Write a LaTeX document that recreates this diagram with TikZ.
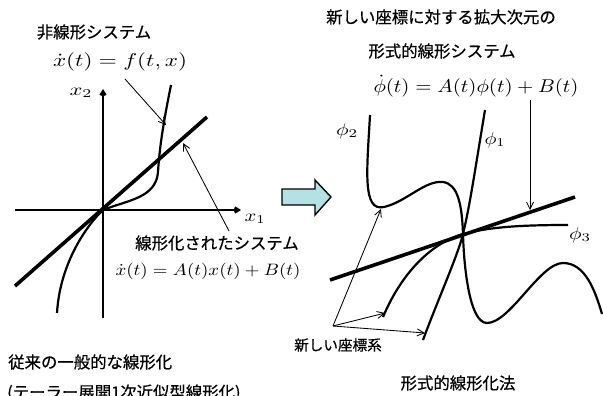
\documentclass[tikz,border=0pt]{standalone}
\usepackage{fontspec}
\usepackage{graphicx}
\newfontfamily\jpfont[BoldFont=Noto Sans CJK JP,BoldFeatures={FakeBold=0.5}]{Noto Sans CJK JP}
\usetikzlibrary{arrows.meta}
\newlength\mfitw
\newcommand{\mfit}[3]{\settowidth{\mfitw}{$#3$}\pgfmathsetmacro\mfitsx{#1/\mfitw}\pgfmathsetmacro\mfitsy{#2/10}\scalebox{\mfitsx}[\mfitsy]{$#3$}}
\begin{document}
\begin{tikzpicture}[x=1pt,y=-1pt,
  thickln/.style={line width=3.6pt},
  axisln/.style={line width=2.4pt,-{Straight Barb[length=4pt,width=5pt]}},
  crv/.style={line width=2.2pt},
  thinarr/.style={line width=0.85pt,-{Straight Barb[length=7pt,width=7pt]}},
  jlab/.style={font=\jpfont\bfseries\fontsize{16.4}{18}\selectfont,inner sep=0pt,text=black},
  jsmall/.style={font=\jpfont\bfseries\fontsize{14.6}{16}\selectfont,inner sep=0pt,text=black},
  mlab/.style={inner sep=0pt,text=black}]
\useasboundingbox[fill=white] (0,0) rectangle (603,396);

% ---------- left panel ----------
\node[jlab] (nlsys) at (94,32) {非線形システム};
\node[mlab] (nleq) at (120,62) {\mfit{134}{18.5}{\dot{x}(t)=f(t,x)}};
\node[mlab] (x2lab) at (81,93) {\mfit{23}{17}{x_2}};
\node[mlab] (x1lab) at (255,219) {\mfit{21}{17}{x_1}};
\node[jlab] (linsys) at (217,243) {線形化されたシステム};
\node[mlab] (lineq) at (208,271) {\mfit{185}{16.5}{\dot{x}(t)=A(t)x(t)+B(t)}};
\node[jlab,anchor=west] (conv) at (8,362) {従来の一般的な線形化};
\node[jlab,anchor=west] (taylor) at (7,393) {(テーラー展開1次近似型線形化)};

\coordinate (O) at (103,210);
\coordinate (ax2b) at (103,318);
\coordinate (ax2t) at (103,89);
\coordinate (ax1l) at (15,210);
\coordinate (ax1r) at (241,210);
\draw[axisln] (ax2b) -- (ax2t);
\draw[axisln] (ax1l) -- (ax1r);

\coordinate (linA) at (15,286);
\coordinate (linB) at (207,117);
\draw[thickln] (linA) -- (linB);

\draw[crv] (57,313) .. controls (60,262) and (88,224) .. (O)
  .. controls (128,200) and (156,198) .. (158,172)
  .. controls (160,140) and (166,110) .. (171,85);

\coordinate (a1s) at (125,79);
\coordinate (a1e) at (166,125);
\draw[thinarr] (a1s) -- (a1e);
\coordinate (a2s) at (229,231);
\coordinate (a2e) at (183,143);
\draw[thinarr] (a2s) -- (a2e);

% ---------- block arrow ----------
\draw[line width=1.4pt,fill={rgb,255:red,180;green,225;blue,228},line join=miter]
  (282,189) -- (315,189) -- (315,180) -- (331,197) -- (315,215) -- (315,205) -- (282,205) -- cycle;

% ---------- right panel ----------
\node[jlab] (newc) at (441,17) {新しい座標に対する拡大次元の};
\node[jlab] (formsys) at (442,51) {形式的線形システム};
\node[mlab] (phieq) at (476,86) {\mfit{205}{18.5}{\dot{\phi}(t)=A(t)\phi(t)+B(t)}};
\node[mlab] (p2lab) at (347,131) {\mfit{22}{17}{\phi_2}};
\node[mlab] (p1lab) at (495,140) {\mfit{21}{17}{\phi_1}};
\node[mlab] (p3lab) at (580,235) {\mfit{22}{17}{\phi_3}};
\node[jsmall] (newsys) at (338,345) {新しい座標系};
\node[jlab] (formlin) at (458,383) {形式的線形化法};

\coordinate (C) at (463,234);
\coordinate (rlA) at (330,280);
\coordinate (rlB) at (575,197);
\draw[thickln] (rlA) -- (rlB);

% phi1
\draw[crv] (485,110) .. controls (475,170) and (470,205) .. (C)
  .. controls (458,255) and (437,302) .. (423,340);
% phi2
\draw[crv] (370,115) .. controls (367,170) and (362,212) .. (384,207)
  .. controls (406,202) and (425,180) .. (443,182)
  .. controls (458,184) and (462,205) .. (C)
  .. controls (464,270) and (470,323) .. (487,323)
  .. controls (510,323) and (540,263) .. (563,263)
  .. controls (585,263) and (595,290) .. (602,314);
% phi3
\draw[crv] (568,225) .. controls (520,225) and (490,227) .. (C)
  .. controls (438,241) and (405,265) .. (383,317);

\coordinate (vs) at (530,100);
\coordinate (ve) at (530,210);
\draw[thinarr] (vs) -- (ve);

\coordinate (nsrc) at (333,326);
\coordinate (t1) at (381,209);
\coordinate (t2) at (385,313);
\coordinate (t3) at (425,333);
\draw[thinarr] (nsrc) -- (t1);
\draw[thinarr] (nsrc) -- (t2);
\draw[thinarr] (nsrc) -- (t3);
\end{tikzpicture}
\end{document}
